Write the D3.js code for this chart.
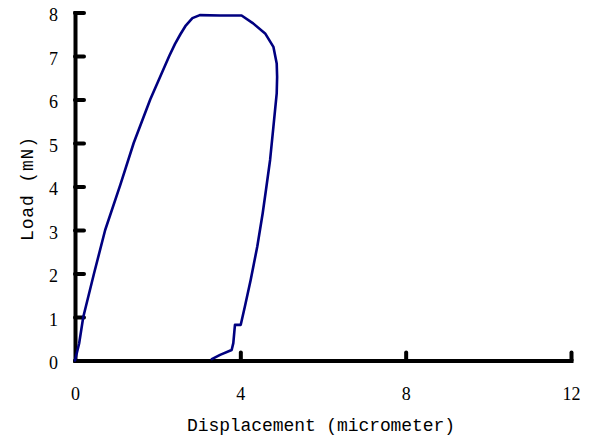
<!DOCTYPE html>
<html>
<head>
<meta charset="utf-8">
<script src="https://cdn.jsdelivr.net/npm/d3@7/dist/d3.min.js"></script>
<style>
  body { margin: 0; background: #ffffff; }
</style>
</head>
<body>
<svg id="chart" width="600" height="440"></svg>
<script>
// Load–displacement curve of one indentation cycle (loading, hold, unloading)
const displacement = [0, 0.10, 0.20, 0.46, 0.73, 1.10, 1.42, 1.82, 2.05, 2.28, 2.42, 2.55,
  2.68, 2.84, 3.02, 3.51, 4.03, 4.31, 4.60, 4.80, 4.88, 4.89, 4.88, 4.80, 4.72, 4.62, 4.54,
  4.41, 4.25, 4.11, 4.01, 3.87, 3.83, 3.79, 3.51, 3.31];
const load = [0, 0.39, 1.00, 2.00, 3.00, 4.05, 5.00, 6.00, 6.50, 7.00, 7.28, 7.50,
  7.70, 7.87, 7.94, 7.93, 7.93, 7.75, 7.52, 7.21, 6.83, 6.52, 6.14, 5.37, 4.61, 3.92, 3.38,
  2.62, 1.85, 1.24, 0.82, 0.82, 0.40, 0.24, 0.13, 0.03];

const xTicks = [0, 4, 8, 12];
const yTicks = [0, 1, 2, 3, 4, 5, 6, 7, 8];
const xTitle = "Displacement (micrometer)";
const yTitle = "Load (mN)";

const svg = d3.select("#chart");

const x = d3.scaleLinear().domain([0, 12]).range([75, 571]);
const y = d3.scaleLinear().domain([0, 8]).range([360.5, 12.5]);

const axisStroke = 4;

// Y axis: ticks point inward (to the right)
const yAxis = d3.axisLeft(y)
  .tickValues(yTicks)
  .tickSizeInner(-9)
  .tickSizeOuter(0)
  .tickPadding(16)
  .tickFormat(d3.format("d"));

const gy = svg.append("g")
  .attr("transform", `translate(${x(0)},0)`)
  .call(yAxis);

// X axis: ticks point upward, no tick at the origin
const xAxis = d3.axisBottom(x)
  .tickValues(xTicks)
  .tickSizeInner(-8)
  .tickSizeOuter(0)
  .tickPadding(0)
  .tickFormat(d3.format("d"));

const gx = svg.append("g")
  .attr("transform", `translate(0,${y(0)})`)
  .call(xAxis);

[gx, gy].forEach(g => {
  g.select(".domain")
    .attr("stroke", "#000")
    .attr("stroke-width", axisStroke)
    .attr("stroke-linecap", "square");
  g.selectAll(".tick line")
    .attr("stroke", "#000")
    .attr("stroke-width", axisStroke)
    .attr("stroke-linecap", "round");
  g.selectAll(".tick text")
    .attr("fill", "#000")
    .attr("font-family", "'Liberation Serif', 'DejaVu Serif', serif")
    .attr("font-size", 18);
});

gx.selectAll(".tick").filter(d => d === 0).select("line").remove();
gx.selectAll(".tick text").attr("y", 39.5).attr("dy", null);
gy.selectAll(".tick text").attr("x", -17).attr("dy", "0.45em");

// Curve
const line = d3.line()
  .x(i => x(displacement[i]))
  .y(i => y(load[i]));

svg.append("path")
  .datum(d3.range(displacement.length))
  .attr("d", line)
  .attr("fill", "none")
  .attr("stroke", "#000080")
  .attr("stroke-width", 2.6)
  .attr("stroke-linejoin", "round")
  .attr("stroke-linecap", "round");

// Axis titles
svg.append("text")
  .attr("x", 321)
  .attr("y", 430.5)
  .attr("text-anchor", "middle")
  .attr("font-family", "'Liberation Mono', 'DejaVu Sans Mono', monospace")
  .attr("font-size", 18)
  .attr("textLength", 268)
  .attr("lengthAdjust", "spacing")
  .attr("fill", "#000")
  .text(xTitle);

svg.append("text")
  .attr("transform", "translate(33,189) rotate(-90)")
  .attr("text-anchor", "middle")
  .attr("font-family", "'Liberation Mono', 'DejaVu Sans Mono', monospace")
  .attr("font-size", 18)
  .attr("textLength", 104)
  .attr("lengthAdjust", "spacing")
  .attr("fill", "#000")
  .text(yTitle);
</script>
</body>
</html>
